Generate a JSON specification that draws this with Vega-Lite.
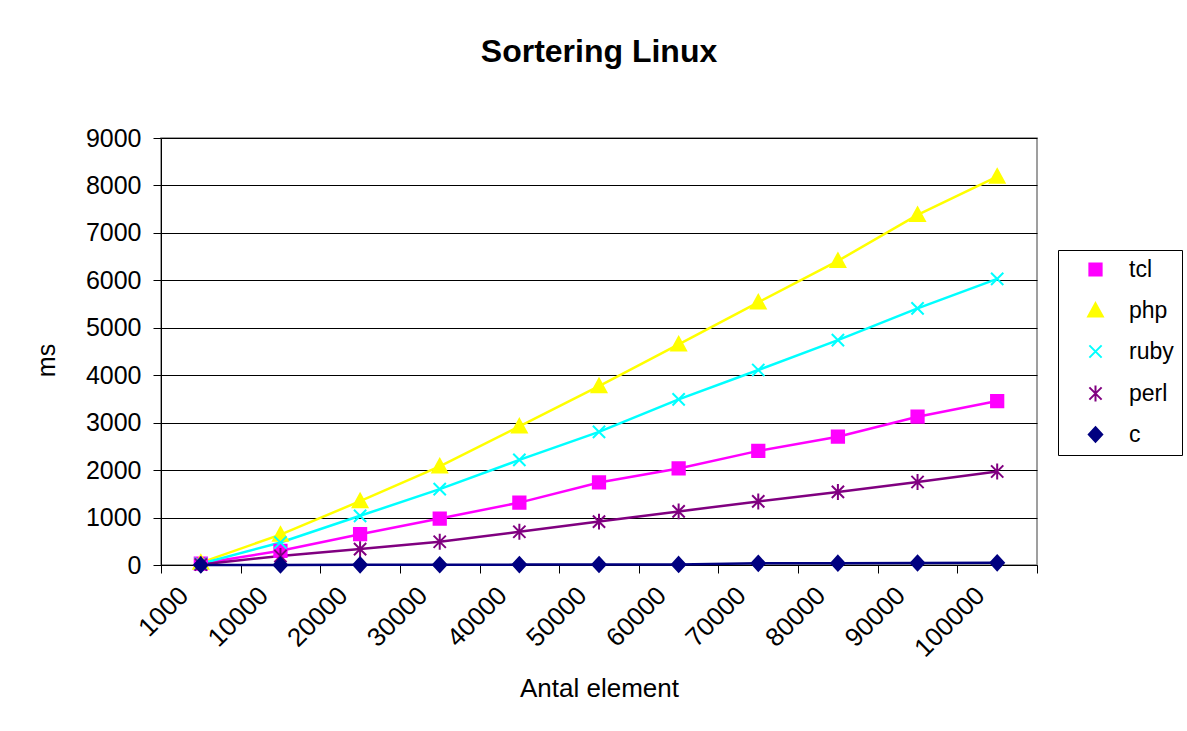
{
  "$schema": "https://vega.github.io/schema/vega-lite/v6.json",
  "width": 876,
  "height": 427,
  "autosize": "none",
  "padding": {"left": 161, "top": 138, "right": 150, "bottom": 166},
  "background": "white",
  "config": {
    "font": "Liberation Sans",
    "view": {"stroke": "#808080", "strokeWidth": 1.5},
    "legend": {
      "title": null,
      "orient": "none",
      "legendX": 897,
      "legendY": 112,
      "strokeColor": "black",
      "fillColor": "white",
      "padding": 8,
      "rowPadding": 17,
      "symbolSize": 150,
      "symbolOffset": 18,
      "labelOffset": 22,
      "labelFontSize": 23,
      "labelColor": "black",
      "symbolStrokeWidth": 2,
      "symbolOpacity": 1
    }
  },
  "title": {
    "text": "Sortering Linux",
    "fontSize": 32,
    "fontWeight": "bold",
    "color": "black",
    "anchor": "middle",
    "frame": "group",
    "offset": 57
  },
  "data": {
    "values": [
      {"n": "1000", "lang": "tcl", "ms": 30},
      {"n": "10000", "lang": "tcl", "ms": 300},
      {"n": "20000", "lang": "tcl", "ms": 650},
      {"n": "30000", "lang": "tcl", "ms": 980},
      {"n": "40000", "lang": "tcl", "ms": 1315},
      {"n": "50000", "lang": "tcl", "ms": 1740},
      {"n": "60000", "lang": "tcl", "ms": 2035},
      {"n": "70000", "lang": "tcl", "ms": 2405},
      {"n": "80000", "lang": "tcl", "ms": 2705},
      {"n": "90000", "lang": "tcl", "ms": 3125},
      {"n": "100000", "lang": "tcl", "ms": 3455},
      {"n": "1000", "lang": "php", "ms": 50},
      {"n": "10000", "lang": "php", "ms": 640},
      {"n": "20000", "lang": "php", "ms": 1345},
      {"n": "30000", "lang": "php", "ms": 2080},
      {"n": "40000", "lang": "php", "ms": 2920},
      {"n": "50000", "lang": "php", "ms": 3770},
      {"n": "60000", "lang": "php", "ms": 4650},
      {"n": "70000", "lang": "php", "ms": 5535},
      {"n": "80000", "lang": "php", "ms": 6410},
      {"n": "90000", "lang": "php", "ms": 7380},
      {"n": "100000", "lang": "php", "ms": 8185},
      {"n": "1000", "lang": "ruby", "ms": 25},
      {"n": "10000", "lang": "ruby", "ms": 475},
      {"n": "20000", "lang": "ruby", "ms": 1037},
      {"n": "30000", "lang": "ruby", "ms": 1598},
      {"n": "40000", "lang": "ruby", "ms": 2215},
      {"n": "50000", "lang": "ruby", "ms": 2805},
      {"n": "60000", "lang": "ruby", "ms": 3490},
      {"n": "70000", "lang": "ruby", "ms": 4110},
      {"n": "80000", "lang": "ruby", "ms": 4740},
      {"n": "90000", "lang": "ruby", "ms": 5410},
      {"n": "100000", "lang": "ruby", "ms": 6030},
      {"n": "1000", "lang": "perl", "ms": 10},
      {"n": "10000", "lang": "perl", "ms": 190},
      {"n": "20000", "lang": "perl", "ms": 335},
      {"n": "30000", "lang": "perl", "ms": 490},
      {"n": "40000", "lang": "perl", "ms": 700},
      {"n": "50000", "lang": "perl", "ms": 915},
      {"n": "60000", "lang": "perl", "ms": 1130},
      {"n": "70000", "lang": "perl", "ms": 1340},
      {"n": "80000", "lang": "perl", "ms": 1540},
      {"n": "90000", "lang": "perl", "ms": 1750},
      {"n": "100000", "lang": "perl", "ms": 1970},
      {"n": "1000", "lang": "c", "ms": 1},
      {"n": "10000", "lang": "c", "ms": 2},
      {"n": "20000", "lang": "c", "ms": 4},
      {"n": "30000", "lang": "c", "ms": 6},
      {"n": "40000", "lang": "c", "ms": 8},
      {"n": "50000", "lang": "c", "ms": 10},
      {"n": "60000", "lang": "c", "ms": 12},
      {"n": "70000", "lang": "c", "ms": 35},
      {"n": "80000", "lang": "c", "ms": 38},
      {"n": "90000", "lang": "c", "ms": 42},
      {"n": "100000", "lang": "c", "ms": 45}
    ]
  },
  "encoding": {
    "x": {
      "field": "n",
      "type": "ordinal",
      "sort": ["1000", "10000", "20000", "30000", "40000", "50000", "60000", "70000", "80000", "90000", "100000"],
      "scale": {"type": "band", "paddingInner": 0, "paddingOuter": 0},
      "axis": {
        "title": "Antal element",
        "titleFontSize": 26,
        "titleFontWeight": "normal",
        "titleColor": "black",
        "titlePadding": 14,
        "tickBand": "extent",
        "tickSize": 8,
        "tickColor": "black",
        "domainColor": "black",
        "labelAngle": -45,
        "labelAlign": "right",
        "labelBaseline": "middle",
        "labelFontSize": 26,
        "labelColor": "black",
        "labelPadding": 18,
        "labelOffset": -17,
        "grid": false
      }
    },
    "y": {
      "field": "ms",
      "type": "quantitative",
      "scale": {"domain": [0, 9000], "nice": false},
      "axis": {
        "title": "ms",
        "titleFontSize": 25,
        "titleFontWeight": "normal",
        "titleColor": "black",
        "titlePadding": 26,
        "titleY": 222,
        "values": [0, 1000, 2000, 3000, 4000, 5000, 6000, 7000, 8000, 9000],
        "format": "d",
        "tickSize": 8,
        "tickColor": "black",
        "domainColor": "black",
        "gridColor": "black",
        "gridOpacity": 1,
        "labelFontSize": 25,
        "labelColor": "black",
        "labelPadding": 12
      }
    }
  },
  "layer": [
    {
      "mark": {"type": "line", "strokeWidth": 2.5},
      "encoding": {
        "stroke": {
          "field": "lang",
          "type": "nominal",
          "scale": {
            "domain": ["tcl", "php", "ruby", "perl", "c"],
            "range": ["#FF00FF", "#FFFF00", "#00FFFF", "#800080", "#000080"]
          }
        }
      }
    },
    {
      "mark": {"type": "point", "size": 150, "strokeWidth": 2, "opacity": 1, "filled": true},
      "encoding": {
        "fill": {
          "field": "lang",
          "type": "nominal",
          "scale": {
            "domain": ["tcl", "php", "ruby", "perl", "c"],
            "range": ["#FF00FF", "#FFFF00", "#00FFFF", "#800080", "#000080"]
          }
        },
        "stroke": {
          "field": "lang",
          "type": "nominal",
          "scale": {
            "domain": ["tcl", "php", "ruby", "perl", "c"],
            "range": ["#FF00FF", "#FFFF00", "#00FFFF", "#800080", "#000080"]
          }
        },
        "shape": {
          "field": "lang",
          "type": "nominal",
          "scale": {
            "domain": ["tcl", "php", "ruby", "perl", "c"],
            "range": ["square", "M0,-1.2L1.2,1H-1.2Z", "M-1,-1L1,1M-1,1L1,-1", "M-1,-1L1,1M-1,1L1,-1M0,-1.3V1.3", "M0,-1.2L1.1,0L0,1.2L-1.1,0Z"]
          }
        }
      }
    }
  ]
}
